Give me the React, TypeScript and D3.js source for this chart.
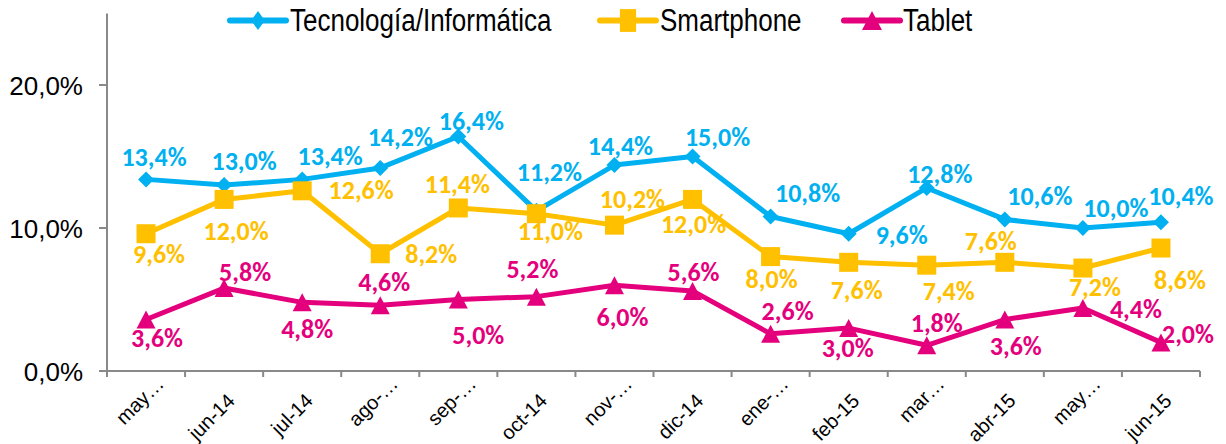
import React from "react";
import * as d3 from "d3";

const categories = ["may-14", "jun-14", "jul-14", "ago-14", "sep-14", "oct-14", "nov-14", "dic-14", "ene-15", "feb-15", "mar-15", "abr-15", "may-15", "jun-15"];
const tickLabels = ["may…", "jun-14", "jul-14", "ago-…", "sep-…", "oct-14", "nov-…", "dic-14", "ene-…", "feb-15", "mar…", "abr-15", "may…", "jun-15"];
const techValues = [13.4, 13.0, 13.4, 14.2, 16.4, 11.2, 14.4, 15.0, 10.8, 9.6, 12.8, 10.6, 10.0, 10.4];
const smartphoneValues = [9.6, 12.0, 12.6, 8.2, 11.4, 11.0, 10.2, 12.0, 8.0, 7.6, 7.4, 7.6, 7.2, 8.6];
const tabletValues = [3.6, 5.8, 4.8, 4.6, 5.0, 5.2, 6.0, 5.6, 2.6, 3.0, 1.8, 3.6, 4.4, 2.0];
const yTicks = [0, 10, 20];
const seriesNames = ["Tecnología/Informática", "Smartphone", "Tablet"];

// label placement (layout): offset of label centre from its point, in px
const techLabelOffsets: [number, number][] = [[8, -22], [20, -24], [28, -23], [20, -30], [13, -15], [13, -38], [6, -19], [25, -19], [37, -23], [53, 2], [13, -13], [35, -23], [33, -20], [20, -26]];
const smartLabelOffsets: [number, number][] = [[13, 21], [12, 32], [59, 0], [51, 1], [-1, -23], [14, 18], [18, -26], [1, 25], [1, 23], [8, 28], [22, 26], [-14, -21], [12, 19.5], [19, 32]];
const tabletLabelOffsets: [number, number][] = [[11, 19], [21, -16], [5, 27], [4, -23], [20, 36], [-4, -27], [8, 32], [1, -18], [17, -22], [-1, 20], [10, -22], [11, 27], [53, 1], [27, -8]];

const BLUE = "#00B0F0";
const GOLD = "#FFC000";
const PINK = "#E4007C";
const AXIS = "#898989";

const fmt = (v: number) => v.toFixed(1).replace(".", ",") + "%";

type Shape = "diamond" | "square" | "triangle";

function Marker({ shape, x, y, color, sx = 1, sy = 1 }: { shape: Shape; x: number; y: number; color: string; sx?: number; sy?: number }) {
  if (shape === "diamond") {
    const w = 8 * sx, h = 8 * sy;
    return <path d={`M${x},${y - h}L${x + w},${y}L${x},${y + h}L${x - w},${y}Z`} fill={color} />;
  }
  if (shape === "square") {
    const w = 9.5 * sx, h = 9.5 * sy;
    return <rect x={x - w} y={y - h} width={2 * w} height={2 * h} fill={color} />;
  }
  const w = 9.5 * sx, h = 9 * sy;
  return <path d={`M${x},${y - h}L${x + w},${y + h}L${x - w},${y + h}Z`} fill={color} />;
}

export default function App() {
  const W = 1226, H = 444;
  const left = 107, right = 1200, bottom = 371, top = 13.5;
  const x = d3.scaleBand<string>().domain(categories).range([left, right]).padding(0);
  const y = d3.scaleLinear().domain([0, 25]).range([bottom, top]);
  const cx = (i: number) => (x(categories[i]) as number) + x.bandwidth() / 2;

  const series = [
    { name: seriesNames[0], values: techValues, color: BLUE, shape: "diamond" as Shape, offsets: techLabelOffsets },
    { name: seriesNames[1], values: smartphoneValues, color: GOLD, shape: "square" as Shape, offsets: smartLabelOffsets },
    { name: seriesNames[2], values: tabletValues, color: PINK, shape: "triangle" as Shape, offsets: tabletLabelOffsets },
  ];

  const line = d3.line<number>().x((_, i) => cx(i)).y((v) => y(v));

  const legendItems = [
    { lx: 230, tx: 290 },
    { lx: 600, tx: 660 },
    { lx: 844, tx: 903 },
  ];

  return (
    <svg width={W} height={H} style={{ position: "absolute", left: 0, top: 0, background: "#fff" }} fontFamily="'Liberation Sans', Arial, sans-serif">
      {/* y axis */}
      <line x1={left} x2={left} y1={top} y2={bottom} stroke={AXIS} strokeWidth={2} />
      {yTicks.map((t) => (
        <g key={t}>
          <line x1={left - 8} x2={left} y1={y(t)} y2={y(t)} stroke={AXIS} strokeWidth={2} />
          <text x={83} y={y(t) + 9.5} fontSize={26} textAnchor="end" fill="#000">{fmt(t)}</text>
        </g>
      ))}
      {/* x axis */}
      <line x1={left} x2={right} y1={bottom} y2={bottom} stroke={AXIS} strokeWidth={2} />
      {categories.map((c) => (
        <line key={c} x1={x(c) as number} x2={x(c) as number} y1={bottom} y2={bottom + 6} stroke={AXIS} strokeWidth={2} />
      ))}
      <line x1={right} x2={right} y1={bottom} y2={bottom + 6} stroke={AXIS} strokeWidth={2} />
      {tickLabels.map((lab, i) => {
        const trunc = lab.endsWith("…");
        const ax = cx(i) + (trunc ? 19 : 12);
        const ay = trunc ? 385 : 402;
        return (
          <text key={i} x={ax} y={ay} fontSize={20} textAnchor="end" fill="#000" transform={`rotate(-45 ${ax} ${ay})`}>{lab}</text>
        );
      })}
      {/* series */}
      {series.map((s) => (
        <g key={s.name}>
          <path d={line(s.values) as string} fill="none" stroke={s.color} strokeWidth={5} strokeLinejoin="round" />
          {s.values.map((v, i) => (
            <Marker key={i} shape={s.shape} x={cx(i)} y={y(v)} color={s.color} />
          ))}
        </g>
      ))}
      {/* data labels */}
      {series.map((s) => (
        <g key={s.name + "-lab"} fontFamily="Calibri, Carlito, Lato, sans-serif" fontWeight="bold" fontSize={26} fill={s.color}>
          {s.values.map((v, i) => (
            <text key={i} x={cx(i) + s.offsets[i][0]} y={y(v) + s.offsets[i][1] + 8.5} textAnchor="middle">{fmt(v)}</text>
          ))}
        </g>
      ))}
      {/* legend */}
      {series.map((s, k) => {
        const it = legendItems[k];
        const ly = 20.5;
        return (
          <g key={s.name + "-leg"}>
            <line x1={it.lx} x2={it.lx + 56} y1={ly} y2={ly} stroke={s.color} strokeWidth={6} strokeLinecap="round" />
            <Marker shape={s.shape} x={it.lx + 28} y={ly} color={s.color} sx={s.shape === "triangle" ? 1.05 : 0.85} sy={s.shape === "triangle" ? 1.05 : 1.2} />
            <g transform={`translate(${it.tx},31) scale(1,1.2)`}>
              <text x={0} y={0} fontSize={26} fill="#000">{s.name}</text>
            </g>
          </g>
        );
      })}
    </svg>
  );
}
